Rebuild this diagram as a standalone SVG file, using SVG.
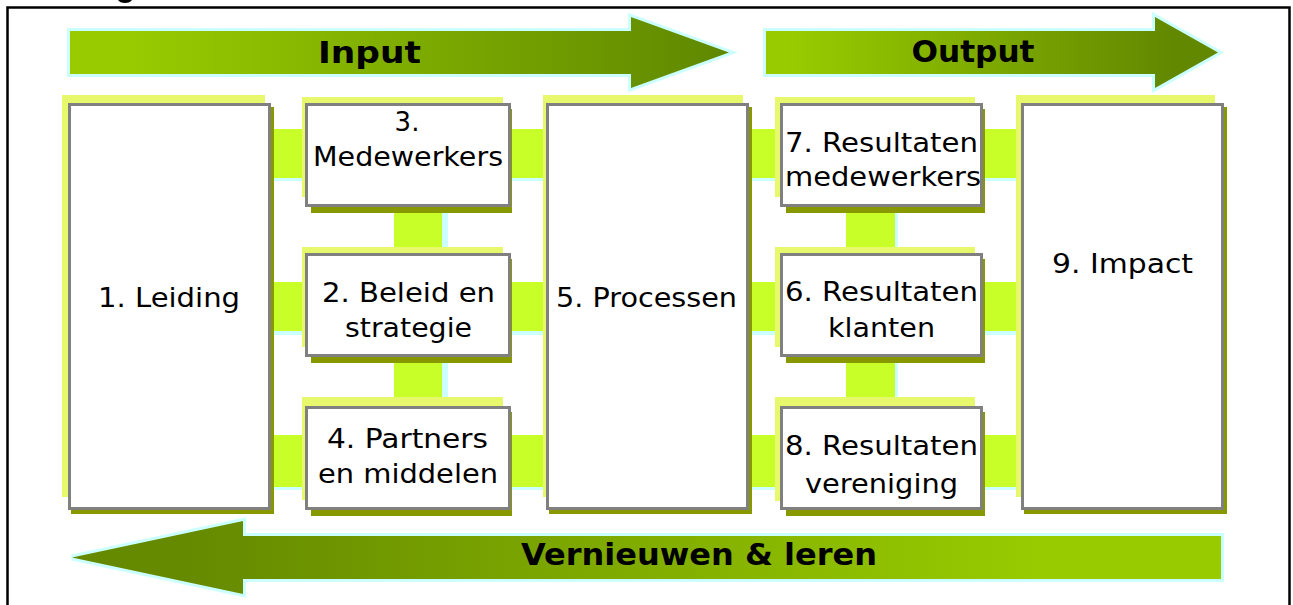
<svg xmlns="http://www.w3.org/2000/svg" width="1293" height="605" viewBox="0 0 1293 605">
<style>
.lbl{font-family:"DejaVu Sans","Liberation Sans",sans-serif;font-size:26px;fill:#000;text-anchor:middle}
.hdr{font-family:"DejaVu Sans","Liberation Sans",sans-serif;font-size:31px;font-weight:bold;fill:#000;text-anchor:middle}
.box{fill:#fff;stroke:#808080;stroke-width:3}
.back{fill:#e8f86c}
.shade{fill:#889900}
.con{fill:#c8ff28}
.edge{fill:#ccffff}
.arrow{stroke:#ccffff;stroke-width:6;paint-order:stroke;stroke-linejoin:miter}
</style>
<defs>
<linearGradient id="gIn" gradientUnits="userSpaceOnUse" x1="70" y1="0" x2="729" y2="0">
<stop offset="0.08" stop-color="#99cc00"/><stop offset="1" stop-color="#5f8800"/>
</linearGradient>
<linearGradient id="gOut" gradientUnits="userSpaceOnUse" x1="766" y1="0" x2="1219" y2="0">
<stop offset="0.05" stop-color="#99cc00"/><stop offset="0.9" stop-color="#628800"/>
</linearGradient>
<linearGradient id="gBack" gradientUnits="userSpaceOnUse" x1="72" y1="0" x2="1221" y2="0">
<stop offset="0.1" stop-color="#658a00"/><stop offset="0.85" stop-color="#99cc00"/>
</linearGradient>
</defs>
<rect width="1293" height="605" fill="#fff"/>
<rect x="7.5" y="7.5" width="1282" height="700" fill="#fff" stroke="#000" stroke-width="2.5"/>
<path d="M118,0 H132 Q130,3 125,3 Q120,3 118,0 Z" fill="#000"/>

<g id="arrow-input">
<polygon class="arrow" fill="url(#gIn)" points="70,31 631,31 631,17 729,52.5 631,88 631,74 70,74"/>
<text class="hdr" x="369.5" y="63" textLength="103" lengthAdjust="spacingAndGlyphs">Input</text>
</g>
<g id="arrow-output">
<polygon class="arrow" fill="url(#gOut)" points="766,31 1155,31 1155,17 1218,52.5 1155,88 1155,74 766,74"/>
<text class="hdr" x="973" y="62" textLength="123" lengthAdjust="spacingAndGlyphs">Output</text>
</g>
<g id="arrow-leren">
<polygon class="arrow" fill="url(#gBack)" points="1221,536 243,536 243,521 72,557.5 243,594 243,579 1221,579"/>
<text class="hdr" x="699" y="565" textLength="356" lengthAdjust="spacingAndGlyphs">Vernieuwen &amp; leren</text>
</g>

<g id="connectors">
<rect class="con" x="271" y="129" width="31" height="49"/><rect class="edge" x="271" y="178" width="31" height="3"/>
<rect class="con" x="271" y="282" width="31" height="49"/><rect class="edge" x="271" y="331" width="31" height="4"/>
<rect class="con" x="271" y="435" width="31" height="52"/><rect class="edge" x="271" y="487" width="31" height="3"/>
<rect class="con" x="511" y="129" width="32" height="49"/><rect class="edge" x="511" y="178" width="32" height="3"/>
<rect class="con" x="511" y="282" width="32" height="49"/><rect class="edge" x="511" y="331" width="32" height="4"/>
<rect class="con" x="511" y="435" width="32" height="52"/><rect class="edge" x="511" y="487" width="32" height="3"/>
<rect class="con" x="749" y="129" width="26" height="49"/><rect class="edge" x="749" y="178" width="26" height="3"/>
<rect class="con" x="749" y="282" width="26" height="49"/><rect class="edge" x="749" y="331" width="26" height="4"/>
<rect class="con" x="749" y="435" width="26" height="52"/><rect class="edge" x="749" y="487" width="26" height="3"/>
<rect class="con" x="983" y="129" width="33" height="49"/><rect class="edge" x="983" y="178" width="33" height="3"/>
<rect class="con" x="983" y="282" width="33" height="49"/><rect class="edge" x="983" y="331" width="33" height="4"/>
<rect class="con" x="983" y="435" width="33" height="52"/><rect class="edge" x="983" y="487" width="33" height="3"/>
<rect class="con" x="394" y="207" width="48" height="40"/><rect class="edge" x="442" y="207" width="6" height="40"/>
<rect class="con" x="394" y="357" width="48" height="40"/><rect class="edge" x="442" y="357" width="6" height="40"/>
<rect class="con" x="846" y="206" width="49" height="41"/><rect class="edge" x="895" y="206" width="3" height="41"/>
<rect class="con" x="846" y="357" width="49" height="40"/><rect class="edge" x="895" y="357" width="3" height="40"/>
</g>

<g id="node-1">
<rect class="back" x="62" y="95" width="203" height="402"/>
<rect class="shade" x="71" y="107" width="203" height="407"/>
<rect class="box" x="69.5" y="104.5" width="200" height="404"/>
<text class="lbl" x="169" y="307" textLength="142" lengthAdjust="spacingAndGlyphs">1. Leiding</text>
</g>
<g id="node-3">
<rect class="back" x="302" y="97" width="201" height="100"/>
<rect class="shade" x="311" y="109" width="201" height="104"/>
<rect class="box" x="306.5" y="104.5" width="203" height="101"/>
<text class="lbl" x="407" y="131">3.</text>
<text class="lbl" x="408" y="166" textLength="190" lengthAdjust="spacingAndGlyphs">Medewerkers</text>
</g>
<g id="node-2">
<rect class="back" x="302" y="247" width="201" height="100"/>
<rect class="shade" x="311" y="259" width="201" height="104"/>
<rect class="box" x="306.5" y="254.5" width="203" height="101"/>
<text class="lbl" x="408.5" y="302" textLength="173" lengthAdjust="spacingAndGlyphs">2. Beleid en</text>
<text class="lbl" x="408.5" y="337" textLength="127" lengthAdjust="spacingAndGlyphs">strategie</text>
</g>
<g id="node-4">
<rect class="back" x="302" y="397" width="201" height="103"/>
<rect class="shade" x="311" y="412" width="201" height="104"/>
<rect class="box" x="306.5" y="407.5" width="203" height="101"/>
<text class="lbl" x="407.5" y="448" textLength="161" lengthAdjust="spacingAndGlyphs">4. Partners</text>
<text class="lbl" x="408" y="483" textLength="180" lengthAdjust="spacingAndGlyphs">en middelen</text>
</g>
<g id="node-5">
<rect class="back" x="543" y="95" width="200" height="402"/>
<rect class="shade" x="549" y="107" width="203" height="407"/>
<rect class="box" x="547.5" y="104.5" width="200" height="404"/>
<text class="lbl" x="646.5" y="307" textLength="181" lengthAdjust="spacingAndGlyphs">5. Processen</text>
</g>
<g id="node-7">
<rect class="back" x="775" y="97" width="200" height="100"/>
<rect class="shade" x="786" y="109" width="199" height="104"/>
<rect class="box" x="781.5" y="104.5" width="200" height="101"/>
<text class="lbl" x="881.5" y="152" textLength="193" lengthAdjust="spacingAndGlyphs">7. Resultaten</text>
<text class="lbl" x="883" y="186" textLength="196" lengthAdjust="spacingAndGlyphs">medewerkers</text>
</g>
<g id="node-6">
<rect class="back" x="775" y="247" width="200" height="100"/>
<rect class="shade" x="786" y="259" width="199" height="104"/>
<rect class="box" x="781.5" y="254.5" width="200" height="101"/>
<text class="lbl" x="881.5" y="301" textLength="193" lengthAdjust="spacingAndGlyphs">6. Resultaten</text>
<text class="lbl" x="881.5" y="337" textLength="107" lengthAdjust="spacingAndGlyphs">klanten</text>
</g>
<g id="node-8">
<rect class="back" x="775" y="397" width="200" height="104"/>
<rect class="shade" x="786" y="412" width="199" height="104"/>
<rect class="box" x="781.5" y="407.5" width="200" height="101"/>
<text class="lbl" x="881.5" y="455" textLength="193" lengthAdjust="spacingAndGlyphs">8. Resultaten</text>
<text class="lbl" x="881.5" y="493" textLength="153" lengthAdjust="spacingAndGlyphs">vereniging</text>
</g>
<g id="node-9">
<rect class="back" x="1016" y="95" width="199" height="402"/>
<rect class="shade" x="1024" y="107" width="203" height="407"/>
<rect class="box" x="1022.5" y="104.5" width="200" height="404"/>
<text class="lbl" x="1122.5" y="273" textLength="141" lengthAdjust="spacingAndGlyphs">9. Impact</text>
</g>
</svg>
